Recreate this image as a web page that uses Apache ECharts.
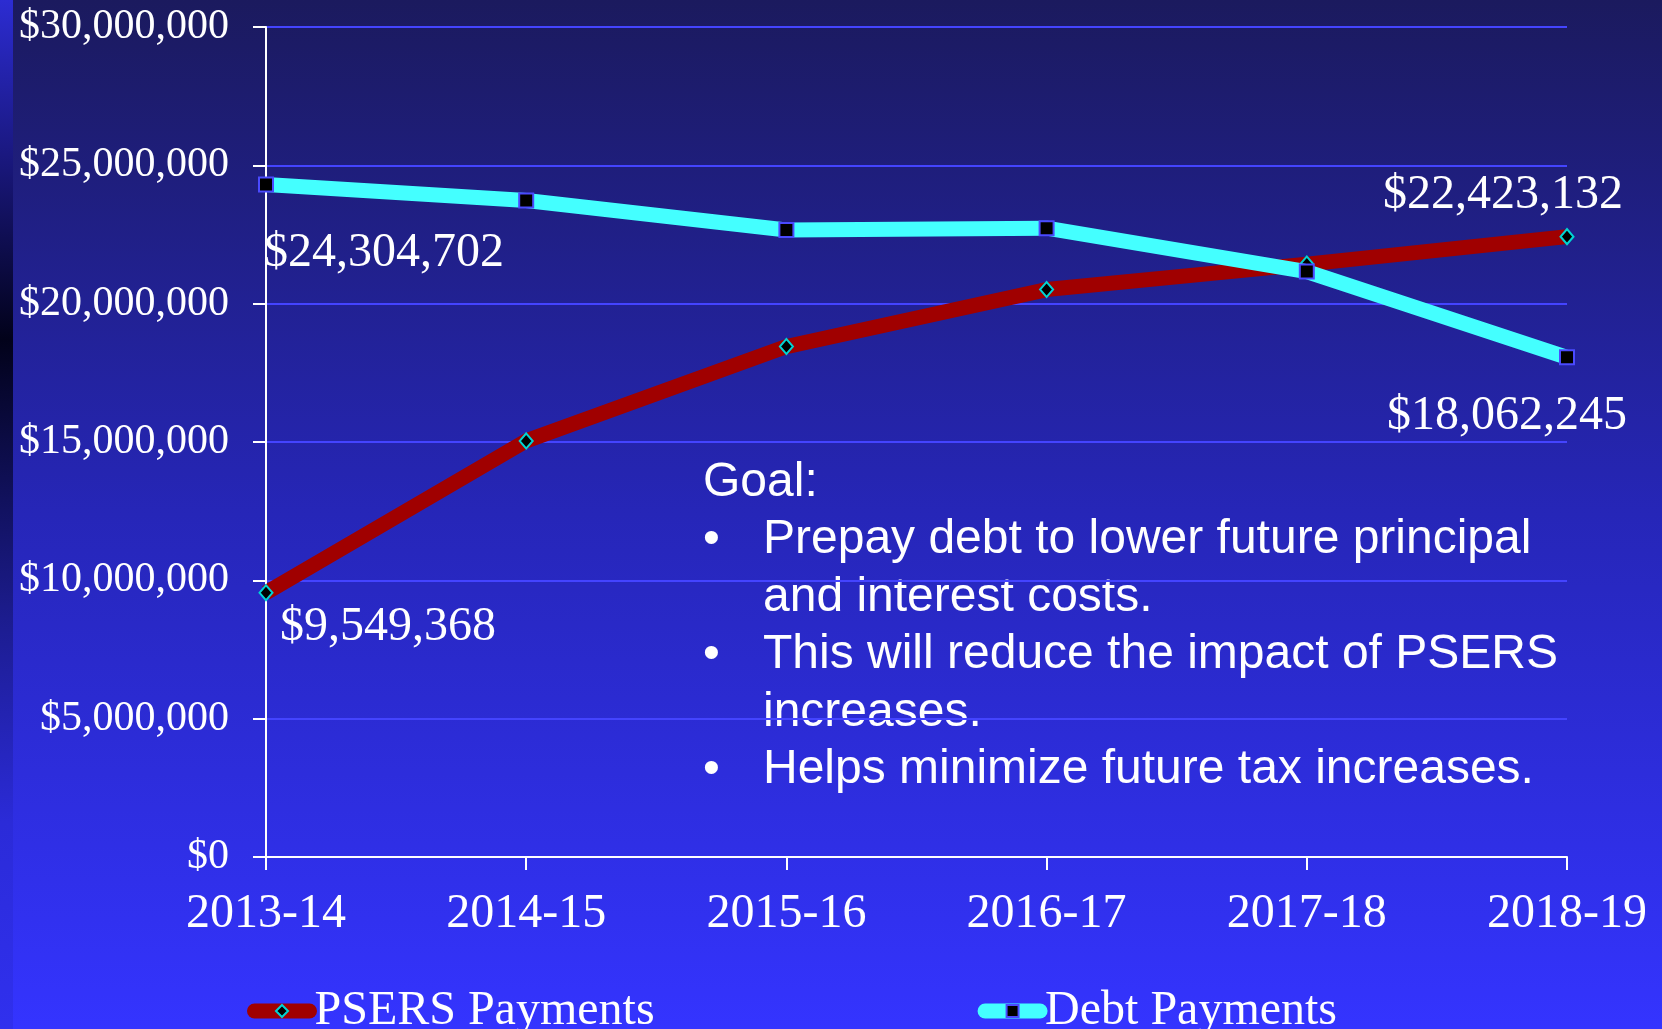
<!DOCTYPE html>
<html>
<head>
<meta charset="utf-8">
<script src="https://cdn.jsdelivr.net/npm/echarts@6/dist/echarts.min.js"></script>
<style>
html, body { margin: 0; padding: 0; }
#chart { width: 1662px; height: 1029px; }
</style>
</head>
<body>
<div id="chart"></div>
<script>
var years = ['2013-14', '2014-15', '2015-16', '2016-17', '2017-18', '2018-19'];
var psersPayments = [9549368, 15040000, 18450000, 20510000, 21430000, 22423132];
var debtPayments = [24304702, 23730000, 22660000, 22730000, 21160000, 18062245];
var goalLines = [
	'Prepay debt to lower future principal',
	'and interest costs.',
	'This will reduce the impact of PSERS',
	'increases.',
	'Helps minimize future tax increases.'
];

var serif = "'Liberation Serif', 'Times New Roman', serif";
var sans = "'Liberation Sans', Arial, sans-serif";

function money(v) {
	return '$' + Number(v).toLocaleString('en-US');
}

// labels only on the first and last point of each line
function withEndLabels(values, first, last) {
	return values.map(function(v, i) {
		var pos = i === 0 ? first : (i === values.length - 1 ? last : null);
		if (!pos) return v;
		return {
			value : v,
			label : {
				show : true,
				position : 'inside',
				align : pos.align,
				verticalAlign : 'middle',
				offset : pos.offset,
				formatter : function(p) { return money(p.value); },
				color : '#ffffff',
				fontFamily : serif,
				fontSize : 48
			}
		};
	});
}

var myChart = echarts.init(document.getElementById('chart'));
var option = {
	animation : false,
	backgroundColor : {
		type : 'linear', x : 0, y : 0, x2 : 0, y2 : 1,
		colorStops : [
			{ offset : 0, color : '#1b1a5e' },
			{ offset : 0.5, color : '#2626b8' },
			{ offset : 1, color : '#3434ff' }
		]
	},
	graphic : [ {
		type : 'rect',
		left : 0, top : 0,
		shape : { width : 13, height : 1029 },
		style : {
			fill : {
				type : 'linear', x : 0, y : 0, x2 : 0, y2 : 1,
				colorStops : [
					{ offset : 0, color : '#2c2cd2' },
					{ offset : 0.15, color : '#1a1880' },
					{ offset : 0.33, color : '#02021a' },
					{ offset : 0.6, color : '#1c1c8e' },
					{ offset : 0.8, color : '#2b2bd8' },
					{ offset : 1, color : '#3030ee' }
				]
			}
		},
		z : 0
	}, {
		type : 'text',
		left : 703, top : 454,
		style : {
			text : 'Goal:\n•\n\n•\n\n•',
			fill : '#ffffff',
			font : '48px ' + sans,
			lineHeight : 57.4
		}
	}, {
		type : 'text',
		left : 763, top : 454,
		style : {
			text : '\n' + goalLines.join('\n'),
			fill : '#ffffff',
			font : '48px ' + sans,
			lineHeight : 57.4
		}
	} ],
	grid : {
		left : 266,
		right : 95,
		top : 27,
		bottom : 172
	},
	legend : {
		left : 242,
		top : 982,
		itemWidth : 55,
		itemHeight : 15,
		itemGap : 323,
		lineStyle : { width : 15, cap : 'round' },
		textStyle : { color : '#ffffff', fontFamily : serif, fontSize : 48 },
		data : [ 'PSERS Payments', 'Debt Payments' ]
	},
	xAxis : {
		type : 'category',
		data : years,
		boundaryGap : false,
		axisLine : { lineStyle : { color : '#ffffff', width : 2 } },
		axisTick : { show : true, length : 13, lineStyle : { color : '#ffffff', width : 2 } },
		axisLabel : { color : '#ffffff', fontFamily : serif, fontSize : 48, margin : 33 },
		splitLine : { show : false }
	},
	yAxis : {
		type : 'value',
		min : 0,
		max : 30000000,
		interval : 5000000,
		axisLine : { show : true, lineStyle : { color : '#ffffff', width : 2 } },
		axisTick : { show : true, length : 13, lineStyle : { color : '#ffffff', width : 2 } },
		axisLabel : {
			color : '#ffffff', fontFamily : serif, fontSize : 42, margin : 37,
			formatter : money
		},
		splitLine : { lineStyle : { color : '#4444ff', width : 2 } }
	},
	series : [ {
		name : 'PSERS Payments',
		type : 'line',
		data : withEndLabels(psersPayments,
			{ align : 'left', offset : [ 14, 35 ] },
			{ align : 'center', offset : [ -64, -41 ] }),
		color : '#a00000',
		lineStyle : { color : '#a00000', width : 15 },
		symbol : 'diamond',
		symbolSize : [ 13, 15 ],
		showAllSymbol : true,
		itemStyle : { color : '#000000', borderColor : '#00d4d4', borderWidth : 2 },
		z : 2
	}, {
		name : 'Debt Payments',
		type : 'line',
		data : withEndLabels(debtPayments,
			{ align : 'left', offset : [ -2, 69 ] },
			{ align : 'center', offset : [ -60, 59 ] }),
		color : '#44ffff',
		lineStyle : { color : '#44ffff', width : 15 },
		symbol : 'rect',
		symbolSize : 14,
		showAllSymbol : true,
		itemStyle : { color : '#000000', borderColor : '#4a4aff', borderWidth : 2 },
		z : 3
	} ]
};
myChart.setOption(option);
</script>
</body>
</html>
